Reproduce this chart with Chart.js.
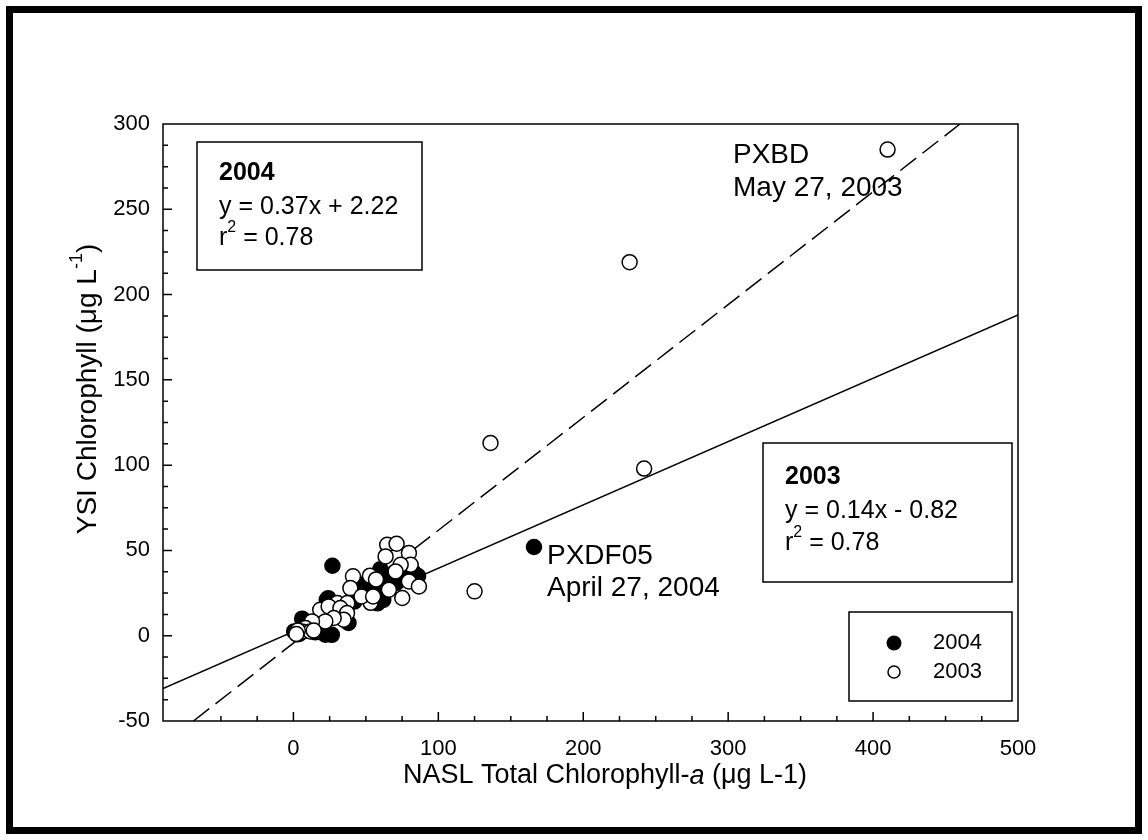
<!DOCTYPE html>
<html>
<head>
<meta charset="utf-8">
<script src="https://cdn.jsdelivr.net/npm/chart.js@4.4.1/dist/chart.umd.min.js"></script>
<style>
  body { margin: 0; background: #fff; }
  canvas { position: absolute; left: 0; top: 0; }
  #frame { position: absolute; left: 6px; top: 6px; width: 1122px; height: 814px; border: 7px solid #000; }
</style>
</head>
<body>
<canvas id="myChart" width="1148" height="840"></canvas>
<div id="frame"></div>
<script>
    // 2004 samples (filled)
    var x2004 = [26.9, 166, 26.5, 6, 24, 23, 0.5, 2.5, 22, 38, 12, 15, 30, 44, 50, 53, 56, 58, 60, 62,
                 60, 65, 68, 71, 74, 78, 83, 86, 80, 63, 48, 54, 42, 35, 18, 9, 4, 7];
    var y2004 = [41, 52, 0.5, 10, 22, 21, 2.5, 0.8, 0.6, 7.5, 4, 2, 13, 24, 28, 22, 25, 19, 26, 21,
                 39, 30, 33, 31, 35, 38, 37, 35, 33, 36, 30, 31, 20, 16, 6, 3, 1, 5];
    // 2003 samples (open)
    var x2003 = [410, 232, 136, 242, 125, 64.7, 71.2, 63.6, 79.7, 80.9, 74, 70.5, 79.7, 86.6, 65.9, 75.1,
                 41.1, 40, 52.8, 53.3, 30.3, 37.2, 39.3, 18.5, 24.3, 32.4, 37, 34.7, 27.8, 22, 12.8,
                 8.3, 5.9, 11.7, 3, 2, 14, 57, 47, 55];
    var y2003 = [285, 219, 113, 98, 26, 53.3, 53.9, 46.5, 48.5, 41.6, 41.6, 37.7, 31.8, 28.9, 27, 22.1,
                 34.8, 27.4, 35.2, 19.3, 19.2, 19.2, 27.9, 15.2, 17.2, 16.2, 13.3, 9.4, 10.4, 8.4, 8.4,
                 4.5, 2.5, 2.5, 3, 1, 3, 33, 23, 23];
    // fitted lines, end points
    var solidX = [-90, 500], solidY = [-31, 188];
    var dashX = [-69, 460], dashY = [-50, 300];

    var xTickLabels = [0, 100, 200, 300, 400, 500];
    var yTickLabels = [-50, 0, 50, 100, 150, 200, 250, 300];

    function pts(xs, ys) {
        return xs.map(function (v, i) { return { x: v, y: ys[i] }; });
    }

    var FONT = "'Liberation Sans', Arial, sans-serif";
    Chart.defaults.font.family = FONT;
    Chart.defaults.color = '#000';

    // draw a row of text pieces (normal / italic / bold / superscript)
    function runs(ctx, parts, x, y, align) {
        var w = 0;
        parts.forEach(function (p) { ctx.font = p.f; w += ctx.measureText(p.t).width; });
        var cx = align === 'center' ? x - w / 2 : x;
        ctx.textAlign = 'left';
        ctx.textBaseline = 'middle';
        parts.forEach(function (p) {
            ctx.font = p.f;
            ctx.fillText(p.t, cx, y + (p.dy || 0));
            cx += ctx.measureText(p.t).width;
        });
    }

    var decor = {
        id: 'decor',
        afterDraw: function (chart) {
            var ctx = chart.ctx, a = chart.chartArea;
            var xs = chart.scales.x, ys = chart.scales.y;
            ctx.save();
            ctx.strokeStyle = '#000';
            ctx.fillStyle = '#000';
            ctx.lineWidth = 1.5;
            ctx.strokeRect(a.left, a.top, a.right - a.left, a.bottom - a.top);

            // inward ticks
            ctx.beginPath();
            xs.ticks.forEach(function (t) {
                if (t.value <= xs.min || t.value >= xs.max) return;
                var px = xs.getPixelForValue(t.value);
                var len = t.value % 100 === 0 ? 9 : 5;
                ctx.moveTo(px, a.bottom);
                ctx.lineTo(px, a.bottom - len);
            });
            ys.ticks.forEach(function (t) {
                if (t.value <= ys.min || t.value >= ys.max) return;
                var py = ys.getPixelForValue(t.value);
                var len = t.value % 50 === 0 ? 9 : 5;
                ctx.moveTo(a.left, py);
                ctx.lineTo(a.left + len, py);
            });
            ctx.stroke();

            var N25 = '25px ' + FONT, B25 = 'bold 25px ' + FONT, S16 = '16px ' + FONT;

            // 2004 box
            ctx.fillStyle = '#fff';
            ctx.fillRect(197, 142, 225, 128);
            ctx.strokeRect(197, 142, 225, 128);
            ctx.fillStyle = '#000';
            runs(ctx, [{ t: '2004', f: B25 }], 219, 173);
            runs(ctx, [{ t: 'y = 0.37x + 2.22', f: N25 }], 219, 207);
            runs(ctx, [{ t: 'r', f: N25 }, { t: '2', f: S16, dy: -10 }, { t: ' = 0.78', f: N25 }], 219, 238);

            // 2003 box
            ctx.fillStyle = '#fff';
            ctx.fillRect(763, 443, 249, 139);
            ctx.strokeRect(763, 443, 249, 139);
            ctx.fillStyle = '#000';
            runs(ctx, [{ t: '2003', f: B25 }], 785, 477);
            runs(ctx, [{ t: 'y = 0.14x - 0.82', f: N25 }], 785, 511);
            runs(ctx, [{ t: 'r', f: N25 }, { t: '2', f: S16, dy: -10 }, { t: ' = 0.78', f: N25 }], 785, 543);

            // point notes
            var N28 = '28px ' + FONT;
            runs(ctx, [{ t: 'PXBD', f: N28 }], 733, 155);
            runs(ctx, [{ t: 'May 27, 2003', f: N28 }], 733, 188);
            runs(ctx, [{ t: 'PXDF05', f: N28 }], 547, 556);
            runs(ctx, [{ t: 'April 27, 2004', f: N28 }], 547, 588);

            // legend
            ctx.fillStyle = '#fff';
            ctx.fillRect(849, 612, 163, 89);
            ctx.strokeRect(849, 612, 163, 89);
            ctx.fillStyle = '#000';
            ctx.beginPath(); ctx.arc(894, 643, 7.5, 0, Math.PI * 2); ctx.fill();
            ctx.beginPath(); ctx.arc(894, 672, 6, 0, Math.PI * 2); ctx.stroke();
            runs(ctx, [{ t: '2004', f: '22px ' + FONT }], 933, 643);
            runs(ctx, [{ t: '2003', f: '22px ' + FONT }], 933, 672);

            // axis titles
            var T27 = '27px ' + FONT, I27 = 'italic 27px ' + FONT;
            runs(ctx, [{ t: 'NASL Total Chlorophyll-', f: T27 }, { t: 'a', f: I27 }, { t: ' (\u03bcg L-1)', f: T27 }], 605, 776, 'center');
            var T28 = '28px ' + FONT, S18 = '18px ' + FONT;
            ctx.translate(88, 389);
            ctx.rotate(-Math.PI / 2);
            runs(ctx, [{ t: 'YSI Chlorophyll (\u03bcg L', f: T28 }, { t: '-1', f: S18, dy: -11 }, { t: ')', f: T28 }], 0, 0, 'center');
            ctx.restore();
        }
    };

    new Chart(document.getElementById('myChart'), {
        type: 'scatter',
        data: {
            datasets: [{
                label: '2004',
                data: pts(x2004, y2004),
                backgroundColor: '#000',
                borderColor: '#000',
                pointRadius: 7.5,
                borderWidth: 1.5,
                order: 2
            }, {
                label: '2003',
                data: pts(x2003, y2003),
                backgroundColor: '#fff',
                borderColor: '#000',
                pointRadius: 7.5,
                borderWidth: 1.5,
                order: 1
            }, {
                label: 'fit solid',
                data: pts(solidX, solidY),
                showLine: true,
                pointRadius: 0,
                borderColor: '#000',
                borderWidth: 1.5,
                order: 3
            }, {
                label: 'fit dashed',
                data: pts(dashX, dashY),
                showLine: true,
                pointRadius: 0,
                borderColor: '#000',
                borderWidth: 1.5,
                borderDash: [20, 8],
                order: 3
            }]
        },
        options: {
            responsive: false,
            animation: false,
            layout: { padding: { left: 0, right: 130, top: 124, bottom: 0 } },
            plugins: {
                legend: { display: false },
                tooltip: { enabled: false }
            },
            scales: {
                x: {
                    type: 'linear',
                    min: -90,
                    max: 500,
                    grid: { display: false, drawTicks: false },
                    border: { display: false },
                    ticks: {
                        stepSize: 25,
                        autoSkip: false,
                        maxRotation: 0,
                        padding: 15,
                        font: { size: 22 },
                        callback: function (v) { return xTickLabels.indexOf(v) >= 0 ? String(v) : ''; }
                    },
                    afterFit: function (s) { s.height = 119; }
                },
                y: {
                    type: 'linear',
                    min: -50,
                    max: 300,
                    grid: { display: false, drawTicks: false },
                    border: { display: false },
                    ticks: {
                        stepSize: 12.5,
                        autoSkip: false,
                        padding: 13,
                        font: { size: 22 },
                        callback: function (v) { return yTickLabels.indexOf(v) >= 0 ? String(v) : ''; }
                    },
                    afterFit: function (s) { s.width = 163; }
                }
            }
        },
        plugins: [decor]
    });
</script>
</body>
</html>
